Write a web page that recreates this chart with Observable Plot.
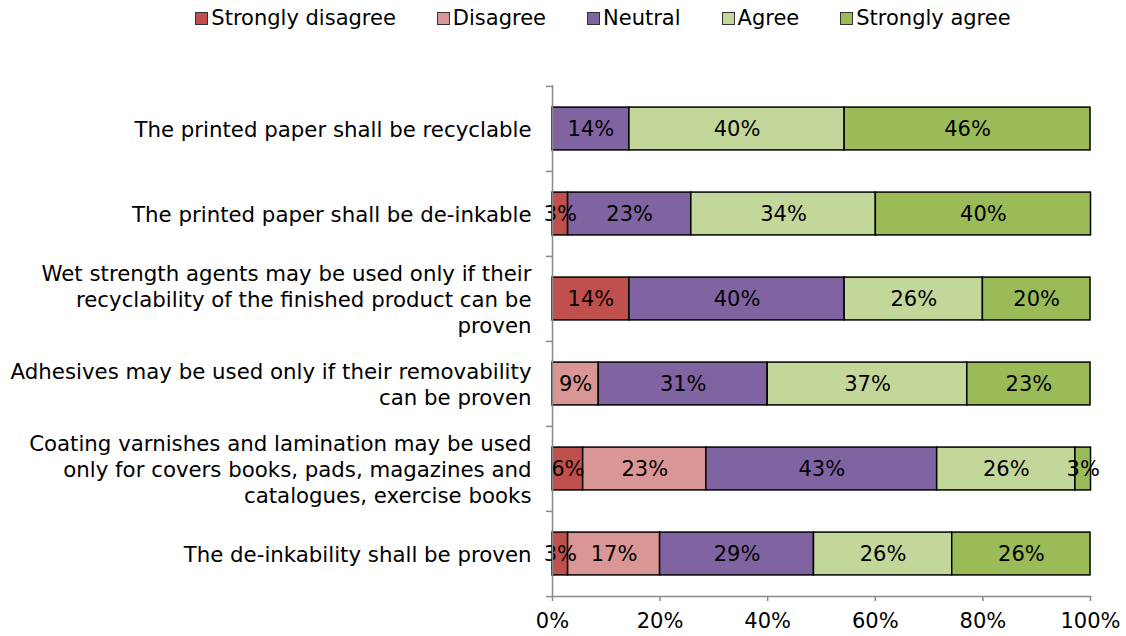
<!DOCTYPE html>
<html><head><meta charset="utf-8">
<script src="https://cdn.jsdelivr.net/npm/d3@7"></script>
<script src="https://cdn.jsdelivr.net/npm/@observablehq/plot@0.6"></script>
<style>
body{margin:0;background:#fff;font-family:"DejaVu Sans",Verdana,sans-serif;}
#legend{display:flex;justify-content:center;gap:41px;height:36px;padding-bottom:4px;align-items:center;margin-left:80px;font-size:21px;color:#000;}
.item{display:flex;align-items:center;gap:3px}
.sw{width:11px;height:11px;border:1.5px solid #333}
</style></head><body>
<div id="legend"></div><div id="chart"></div>
<script>
const statements = [
  "The printed paper shall be recyclable",
  "The printed paper shall be de-inkable",
  "Wet strength agents may be used only if their\nrecyclability of the finished product can be\nproven",
  "Adhesives may be used only if their removability\ncan be proven",
  "Coating varnishes and lamination may be used\nonly for covers books, pads, magazines and\ncatalogues, exercise books",
  "The de-inkability shall be proven"
];
const levels = ["Strongly disagree", "Disagree", "Neutral", "Agree", "Strongly agree"];
const colors = ["#C0504D", "#DA9694", "#8064A2", "#C4D79B", "#9BBB59"];
const stronglyDisagree = [0, 2.9, 14.3, 0, 5.7, 2.9];
const disagree = [0, 0, 0, 8.6, 22.9, 17.1];
const neutral = [14.3, 22.9, 40, 31.4, 42.9, 28.6];
const agree = [40, 34.3, 25.7, 37.1, 25.7, 25.7];
const stronglyAgree = [45.7, 40, 20, 22.9, 2.9, 25.7];
const xTicks = [0, 20, 40, 60, 80, 100];

const series = [stronglyDisagree, disagree, neutral, agree, stronglyAgree];
const rows = [];
statements.forEach((q, i) => levels.forEach((lv, j) => rows.push({q, level: lv, value: series[j][i]})));

// legend
const leg = document.getElementById("legend");
levels.forEach((lv, j) => {
  const it = document.createElement("div"); it.className = "item";
  const sw = document.createElement("div"); sw.className = "sw"; sw.style.background = colors[j];
  const tx = document.createElement("span"); tx.textContent = lv;
  it.append(sw, tx); leg.append(it);
});

const W = 1126, H = 596, mt = 45, mb = 40, ml = 552, mr = 36;
const step = (H - mt - mb) / statements.length;
const inset = (step - 43) / 2;
const tickLen = 6 / (W - ml - mr) * 100;

const chart = Plot.plot({
  width: W, height: H,
  marginTop: mt, marginBottom: mb, marginLeft: ml, marginRight: mr,
  style: {fontFamily: "DejaVu Sans, Verdana, sans-serif", fontSize: "21px", background: "#fff", color: "#000"},
  x: {domain: [0, 100], axis: null, label: null},
  y: {domain: statements, padding: 0, axis: null},
  color: {domain: levels, range: colors},
  marks: [
    Plot.barX(rows, Plot.stackX({x: "value", y: "q", fill: "level", order: levels, stroke: "#000", strokeWidth: 1.5, insetTop: inset, insetBottom: inset})),
    Plot.text(rows, Plot.stackX({x: "value", y: "q", z: "level", order: levels, filter: d => d.value > 0, text: d => Math.round(d.value) + "%", fontSize: 21, fill: "#000"})),
    Plot.ruleX([0], {stroke: "#888", strokeWidth: 1.5}),
    Plot.frame({anchor: "bottom", stroke: "#888", strokeWidth: 1.5}),
    Plot.ruleY(statements, {y: d => d, x1: -tickLen, x2: 0, dy: -step / 2, stroke: "#888", strokeWidth: 1.5}),
    Plot.ruleY([statements[statements.length - 1]], {y: d => d, x1: -tickLen, x2: 0, dy: step / 2, stroke: "#888", strokeWidth: 1.5}),
    Plot.axisX({ticks: xTicks, tickSize: 5, tickPadding: 12, tickFormat: d => d + "%", fontSize: 21, stroke: "#888", strokeWidth: 1.5, label: null}),
    Plot.text(statements, {y: d => d, text: d => d, frameAnchor: "left", textAnchor: "end", dx: -21, fontSize: 21.3, lineHeight: 1.22, fill: "#000"})
  ]
});
document.getElementById("chart").append(chart);
</script>
</body></html>
